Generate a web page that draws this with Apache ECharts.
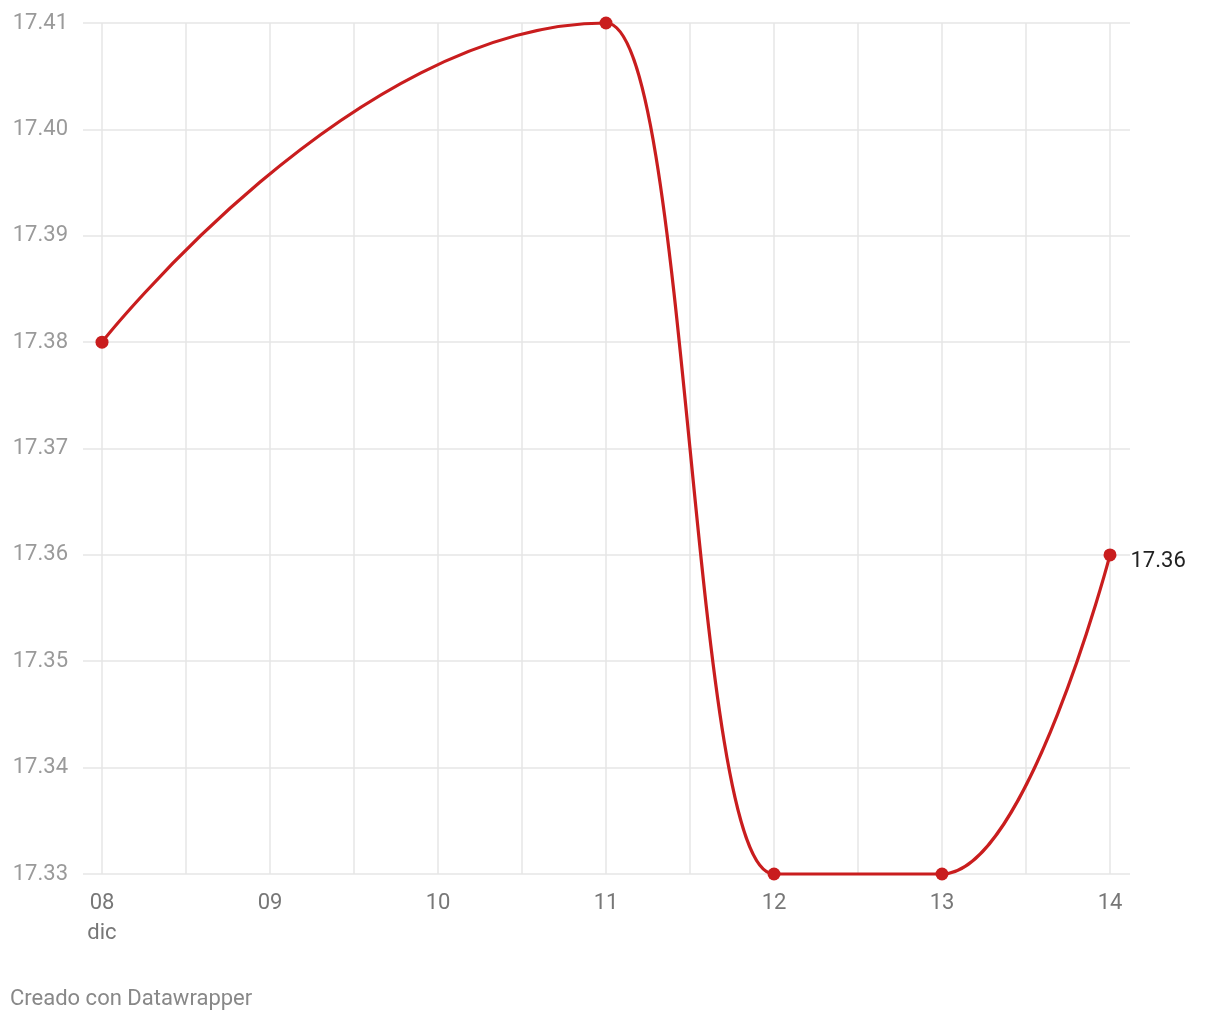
<!DOCTYPE html>
<html>
<head>
<meta charset="utf-8">
<script src="https://cdn.jsdelivr.net/npm/echarts@6/dist/echarts.min.js"></script>
<style>
html,body{margin:0;padding:0;background:#fff;}
#chart{width:1220px;height:1020px;}
</style>
</head>
<body>
<div id="chart"></div>
<script>
// Data
const days = [8, 11, 12, 13, 14];          // day of December
const values = [17.38, 17.41, 17.33, 17.33, 17.36];
const xTickLabels = ["08", "09", "10", "11", "12", "13", "14"];
const monthLabel = "dic";
const yMin = 17.33, yMax = 17.41, yStep = 0.01;
const footer = "Creado con Datawrapper";

const chart = echarts.init(document.getElementById('chart'));
const seriesData = days.map((d, i) => {
  const item = { value: [d, values[i]] };
  if (i === days.length - 1) {
    item.label = {
      show: true, position: 'right', distance: 14, offset: [0, 7],
      formatter: p => p.value[1].toFixed(2),
      color: '#222', fontSize: 22, fontFamily: 'Roboto'
    };
  }
  return item;
});

const option = {
  backgroundColor: '#fff',
  animation: false,
  textStyle: { fontFamily: 'Roboto' },
  grid: [
    { left: 83, right: 90, top: 23, bottom: 146 },
    { left: 102, right: 110, top: 23, bottom: 146 }
  ],
  xAxis: [
    { gridIndex: 0, type: 'value', min: days[0], max: days[days.length-1], show: false },
    {
      gridIndex: 1, type: 'value', min: 8, max: 14, interval: 0.5,
      axisLine: { show: false }, axisTick: { show: false },
      splitLine: { show: true, lineStyle: { color: '#e6e6e6', width: 1.5 } },
      axisLabel: {
        margin: 14, color: '#777', fontSize: 22, lineHeight: 30, fontFamily: 'Roboto',
        showMinLabel: true, showMaxLabel: true,
        formatter: v => {
          if (Math.abs(v - Math.round(v)) > 1e-6) return '';
          const idx = Math.round(v) - 8;
          const t = xTickLabels[idx] || '';
          return idx === 0 ? t + '\n' + monthLabel : t;
        }
      }
    }
  ],
  yAxis: [
    {
      gridIndex: 0, type: 'value', min: yMin, max: yMax, interval: yStep,
      axisLine: { show: false }, axisTick: { show: false },
      splitLine: { show: true, lineStyle: { color: '#e6e6e6', width: 1.5 } },
      axisLabel: {
        margin: 15, color: '#9a9a9a', fontSize: 22, fontFamily: 'Roboto',
        formatter: v => v.toFixed(2)
      }
    },
    { gridIndex: 1, type: 'value', min: yMin, max: yMax, show: false }
  ],
  series: [{
    type: 'line',
    xAxisIndex: 1, yAxisIndex: 1,
    data: seriesData,
    smooth: 0.5,
    smoothMonotone: 'x',
    clip: false,
    symbol: 'circle', symbolSize: 13,
    itemStyle: { color: '#c91d1e' },
    lineStyle: { color: '#c91d1e', width: 3.2 }
  }],
  graphic: [{
    type: 'text', left: 10, top: 988,
    style: { text: footer, fill: '#888', fontSize: 22, fontFamily: 'Roboto' }
  }]
};
chart.setOption(option);
</script>
</body>
</html>
